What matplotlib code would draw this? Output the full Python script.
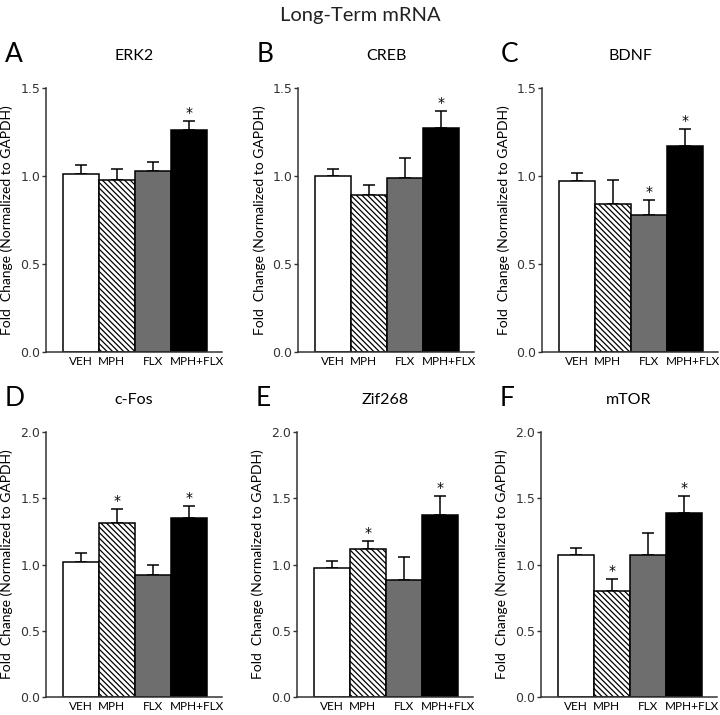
import matplotlib.pyplot as plt
import matplotlib.transforms as mtransforms
import numpy as np

groups = ['VEH', 'MPH', 'FLX', 'MPH+FLX']
letters = ['A', 'B', 'C', 'D', 'E', 'F']
genes = ['ERK2', 'CREB', 'BDNF', 'c-Fos', 'Zif268', 'mTOR']

erk2 = [1.01, 0.98, 1.03, 1.26]
erk2_err = [0.05, 0.06, 0.05, 0.05]
creb = [1.00, 0.89, 0.99, 1.27]
creb_err = [0.04, 0.06, 0.11, 0.10]
bdnf = [0.97, 0.84, 0.78, 1.17]
bdnf_err = [0.045, 0.135, 0.085, 0.095]
cfos = [1.02, 1.31, 0.92, 1.35]
cfos_err = [0.07, 0.11, 0.075, 0.09]
zif268 = [0.97, 1.12, 0.88, 1.37]
zif268_err = [0.06, 0.055, 0.175, 0.15]
mtor = [1.07, 0.80, 1.07, 1.39]
mtor_err = [0.055, 0.09, 0.17, 0.13]

means = [erk2, creb, bdnf, cfos, zif268, mtor]
errs = [erk2_err, creb_err, bdnf_err, cfos_err, zif268_err, mtor_err]
# which bars carry a significance star
stars = [[3], [3], [2, 3], [1, 3], [1, 3], [1, 3]]
ymax = [1.5, 1.5, 1.5, 2.0, 2.0, 2.0]

colors = ['white', 'white', '#6e6e6e', 'black']
hatches = ['', '\\\\\\\\\\\\', '', '']
# small horizontal nudges of the group labels (points), as in the original
label_shift = [0, -4, 0, 6]

plt.rcParams['hatch.linewidth'] = 0.9
fig = plt.figure(figsize=(7.2, 7.15), dpi=100)
fig.text(0.5, 0.978, 'Long-Term mRNA', ha='center', va='center',
         fontsize=14.5, family='Lato', color='#222222')

lefts = [46, 298, 542, 46, 297, 541]
rows = [(88, 352), (88, 352), (88, 352), (432, 697), (432, 697), (432, 697)]
W, H = 720, 715

x = np.arange(len(groups))
for i in range(6):
    top, bot = rows[i]
    ax = fig.add_axes([lefts[i] / W, 1 - bot / H, 176 / W, (bot - top) / H])
    ax.bar(x, means[i], width=1.0, color=colors, edgecolor='black',
           linewidth=1.1, hatch=hatches, zorder=2)
    ax.errorbar(x, means[i], yerr=[[0] * 4, errs[i]], fmt='none',
                ecolor='black', elinewidth=1.1, capsize=4, capthick=1.1, zorder=1)
    for j in stars[i]:
        ax.text(x[j], means[i][j] + errs[i][j] + 0.004 * ymax[i], '*',
                ha='center', va='bottom', fontsize=10)
    ax.set_xlim(-0.97, 3.92)
    ax.set_ylim(0, ymax[i])
    ax.set_yticks(np.arange(0, ymax[i] + 0.01, 0.5))
    ax.set_yticklabels([f'{v:.1f}' for v in np.arange(0, ymax[i] + 0.01, 0.5)])
    ax.set_xticks([])
    base = ax.get_xaxis_transform()
    for j, name in enumerate(groups):
        off = mtransforms.ScaledTranslation(label_shift[j] / 72, -3 / 72,
                                            fig.dpi_scale_trans)
        ax.text(x[j], 0, name, transform=base + off, ha='center', va='top',
                fontsize=8.5, family='Lato')
    ax.tick_params(axis='y', length=3, width=1, labelsize=9, colors='#333333', pad=1)
    for s in ['top', 'right']:
        ax.spines[s].set_visible(False)
    for s in ['left', 'bottom']:
        ax.spines[s].set_linewidth(1.1)
        ax.spines[s].set_color('#333333')
    ax.set_ylabel('Fold  Change (Normalized to GAPDH)', fontsize=10,
                  family='Lato', labelpad=5)
    ax.set_title(genes[i], fontsize=11.5, family='Lato', pad=20)
    fig.text((lefts[i] - 41) / W, 1 - (top - 33) / H, letters[i],
             fontsize=19, family='Lato', va='center', ha='left')

fig.savefig('out.png', dpi=100)
